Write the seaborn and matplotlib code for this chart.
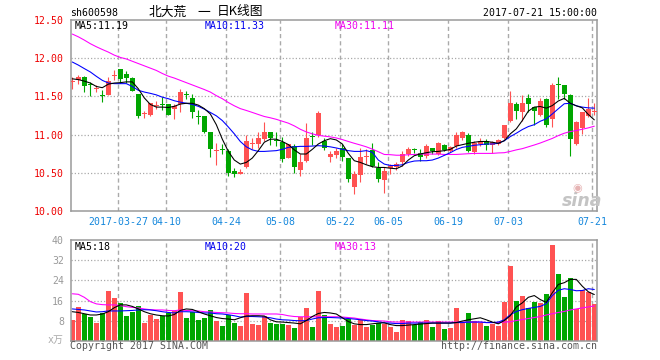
import numpy as np
import pandas as pd
import matplotlib
matplotlib.use("Agg")
import matplotlib.pyplot as plt
import seaborn as sns

# ---------------- data ----------------
tick_idx = [8, 16, 26, 35, 45, 53, 63, 73, 87]
tick_labels = ["2017-03-27", "04-10", "04-24", "05-08", "05-22", "06-05", "06-19", "07-03", "07-21"]

open_ = [
    11.69, 11.72, 11.76, 11.655, 11.60, 11.515, 11.52, 11.765, 11.86, 11.79,
    11.74, 11.53, 11.275, 11.255, 11.375, 11.405, 11.40, 11.34, 11.395, 11.535,
    11.48, 11.245, 11.24, 11.04, 10.795, 10.805, 10.78, 10.518, 10.48, 10.58,
    10.885, 10.88, 10.94, 11.03, 10.925, 10.90, 10.70, 10.855, 10.535, 10.65,
    10.985, 10.99, 10.91, 10.71, 10.73, 10.825, 10.69, 10.32, 10.47, 10.715,
    10.80, 10.56, 10.41, 10.56, 10.57, 10.64, 10.74, 10.805, 10.76, 10.715,
    10.82, 10.745, 10.87, 10.78, 10.855, 10.956, 11.00, 10.77, 10.88, 10.91,
    10.87, 10.88, 10.95, 11.175, 11.395, 11.30, 11.48, 11.36, 11.26, 11.46,
    11.206, 11.665, 11.645, 11.52, 10.88, 11.09, 11.24, 11.305]
high = [
    11.755, 11.785, 11.77, 11.69, 11.645, 11.59, 11.76, 11.85, 11.86, 11.83,
    11.76, 11.53, 11.315, 11.41, 11.44, 11.49, 11.40, 11.40, 11.60, 11.57,
    11.53, 11.32, 11.24, 11.04, 10.886, 10.88, 10.81, 10.56, 10.55, 11.00,
    10.96, 11.04, 11.17, 11.04, 11.04, 10.965, 10.88, 10.88, 10.745, 11.15,
    11.04, 11.31, 10.95, 10.79, 10.825, 10.88, 10.69, 10.52, 10.825, 10.81,
    10.885, 10.635, 10.58, 10.62, 10.635, 10.78, 10.84, 10.825, 10.81, 10.88,
    10.83, 10.90, 10.875, 10.855, 11.04, 11.05, 11.02, 10.92, 10.95, 10.94,
    10.91, 10.94, 11.13, 11.57, 11.425, 11.52, 11.535, 11.36, 11.48, 11.48,
    11.675, 11.755, 11.645, 11.535, 11.175, 11.29, 11.48, 11.41]
low = [
    11.60, 11.66, 11.56, 11.50, 11.56, 11.43, 11.515, 11.72, 11.67, 11.68,
    11.57, 11.22, 11.22, 11.245, 11.34, 11.32, 11.25, 11.20, 11.30, 11.465,
    11.22, 11.14, 11.02, 10.71, 10.605, 10.745, 10.46, 10.45, 10.48, 10.56,
    10.81, 10.83, 10.91, 10.87, 10.855, 10.635, 10.69, 10.50, 10.46, 10.645,
    10.87, 10.965, 10.80, 10.64, 10.69, 10.66, 10.385, 10.22, 10.385, 10.61,
    10.57, 10.385, 10.24, 10.48, 10.535, 10.59, 10.72, 10.755, 10.66, 10.69,
    10.745, 10.73, 10.79, 10.77, 10.83, 10.93, 10.77, 10.74, 10.85, 10.80,
    10.755, 10.87, 10.94, 11.16, 11.21, 11.18, 11.29, 11.13, 11.24, 11.105,
    11.105, 11.47, 11.47, 10.72, 10.87, 11.01, 11.23, 11.25]
close = [
    11.70, 11.76, 11.64, 11.645, 11.605, 11.51, 11.70, 11.775, 11.73, 11.745,
    11.575, 11.245, 11.285, 11.41, 11.385, 11.395, 11.26, 11.38, 11.56, 11.525,
    11.30, 11.235, 11.04, 10.81, 10.80, 10.795, 10.495, 10.48, 10.51, 10.91,
    10.89, 10.95, 11.04, 10.95, 10.915, 10.68, 10.88, 10.57, 10.635, 10.95,
    10.975, 11.28, 10.825, 10.74, 10.79, 10.71, 10.42, 10.49, 10.71, 10.72,
    10.59, 10.42, 10.53, 10.59, 10.62, 10.74, 10.81, 10.795, 10.71, 10.85,
    10.78, 10.89, 10.80, 10.84, 10.99, 11.03, 10.79, 10.886, 10.92, 10.87,
    10.90, 10.93, 11.13, 11.41, 11.31, 11.41, 11.40, 11.315, 11.44, 11.13,
    11.645, 11.655, 11.535, 10.94, 11.16, 11.29, 11.34, 11.31]

ma5 = [
    11.73, 11.72, 11.70, 11.675, 11.63, 11.614, 11.66, 11.675, 11.68, 11.69,
    11.69, 11.60, 11.48, 11.395, 11.36, 11.36, 11.355, 11.37, 11.40, 11.41,
    11.41, 11.386, 11.34, 11.27, 11.13, 10.94, 10.78, 10.667, 10.614, 10.636,
    10.693, 10.79, 10.90, 10.94, 10.94, 10.91, 10.87, 10.80, 10.746, 10.746,
    10.807, 10.877, 10.92, 10.947, 10.93, 10.877, 10.754, 10.658, 10.636, 10.605,
    10.58, 10.57, 10.57, 10.56, 10.553, 10.59, 10.667, 10.724, 10.746, 10.763,
    10.776, 10.78, 10.79, 10.807, 10.85, 10.868, 10.886, 10.90, 10.91, 10.91,
    10.90, 10.886, 10.92, 11.01, 11.075, 11.184, 11.307, 11.36, 11.368, 11.346,
    11.38, 11.44, 11.474, 11.41, 11.377, 11.35, 11.263, 11.193]
ma10 = [
    11.95, 11.91, 11.864, 11.82, 11.763, 11.71, 11.675, 11.667, 11.667, 11.667,
    11.63, 11.58, 11.557, 11.54, 11.52, 11.49, 11.47, 11.443, 11.425, 11.41,
    11.395, 11.37, 11.333, 11.29, 11.246, 11.184, 11.10, 11.01, 10.91, 10.84,
    10.80, 10.78, 10.78, 10.785, 10.79, 10.807, 10.833, 10.84, 10.846, 10.846,
    10.85, 10.855, 10.85, 10.84, 10.825, 10.807, 10.79, 10.78, 10.78, 10.79,
    10.77, 10.667, 10.614, 10.596, 10.596, 10.605, 10.636, 10.654, 10.658, 10.658,
    10.667, 10.693, 10.728, 10.763, 10.805, 10.833, 10.846, 10.86, 10.868, 10.877,
    10.877, 10.886, 10.92, 10.974, 11.018, 11.066, 11.105, 11.13, 11.175, 11.206,
    11.27, 11.338, 11.404, 11.41, 11.377, 11.36, 11.35, 11.346]
ma30 = [
    12.316, 12.28, 12.237, 12.19, 12.15, 12.114, 12.08, 12.04, 12.01, 11.99,
    11.96, 11.93, 11.90, 11.87, 11.84, 11.80, 11.765, 11.74, 11.71, 11.68,
    11.65, 11.62, 11.59, 11.557, 11.51, 11.47, 11.42, 11.377, 11.34, 11.316,
    11.29, 11.263, 11.237, 11.22, 11.20, 11.175, 11.15, 11.114, 11.07, 11.035,
    11.01, 10.99, 10.98, 10.97, 10.956, 10.935, 10.91, 10.886, 10.864, 10.84,
    10.81, 10.776, 10.74, 10.737, 10.73, 10.73, 10.737, 10.74, 10.745, 10.745,
    10.745, 10.745, 10.74, 10.74, 10.74, 10.745, 10.75, 10.754, 10.754, 10.754,
    10.754, 10.76, 10.763, 10.78, 10.80, 10.816, 10.84, 10.864, 10.89, 10.92,
    10.95, 10.987, 11.018, 11.04, 11.053, 11.07, 11.088, 11.11]

volume = [
    8.4, 13.3, 10.7, 9.7, 7.3, 11.1, 20.0, 16.9, 14.9, 10.0,
    11.3, 13.7, 7.3, 10.3, 8.9, 10.0, 11.1, 12.0, 19.6, 9.3,
    11.6, 8.4, 9.3, 12.4, 8.0, 6.0, 10.3, 7.3, 6.0, 19.2,
    6.9, 6.5, 10.0, 7.3, 6.9, 6.9, 6.5, 5.3, 9.7, 12.9,
    5.7, 20.0, 10.3, 6.9, 5.7, 6.0, 8.9, 6.3, 8.9, 5.7,
    6.4, 7.1, 6.9, 5.7, 3.6, 8.4, 7.9, 6.3, 7.7, 8.4,
    5.7, 8.0, 4.9, 5.3, 12.9, 7.1, 11.2, 8.0, 7.1, 6.0,
    6.7, 6.1, 15.3, 29.7, 15.7, 17.7, 13.1, 15.3, 15.1, 18.8,
    38.1, 26.4, 17.3, 24.9, 12.7, 20.1, 19.5, 14.5]
vma5 = [
    11.6, 11.3, 10.8, 10.3, 10.3, 10.7, 11.6, 13.2, 14.3, 14.3,
    13.7, 12.7, 11.6, 10.8, 10.3, 10.0, 9.9, 10.5, 12.1, 12.7,
    12.5, 11.6, 10.7, 10.0, 9.3, 8.9, 8.7, 8.4, 9.2, 9.9,
    10.0, 10.0, 9.9, 8.4, 7.6, 7.5, 7.3, 7.1, 6.8, 8.1,
    9.7, 10.9, 11.3, 11.1, 10.7, 9.2, 7.7, 6.8, 6.5, 6.5,
    6.8, 7.1, 7.2, 6.5, 6.1, 6.1, 6.3, 6.5, 6.7, 6.9,
    7.1, 7.1, 7.1, 7.1, 7.3, 7.9, 8.4, 8.8, 9.2, 8.4,
    7.5, 6.8, 8.1, 10.0, 13.5, 15.1, 17.3, 18.0, 16.4, 15.3,
    19.1, 22.4, 23.1, 24.4, 24.4, 21.7, 19.5, 18.4]
vma10 = [
    12.7, 12.5, 12.3, 11.9, 11.5, 11.6, 11.9, 11.9, 11.9, 12.0,
    12.1, 12.3, 12.4, 12.3, 12.0, 11.6, 11.3, 11.1, 11.6, 11.6,
    11.5, 11.3, 11.1, 11.1, 10.8, 10.7, 10.4, 10.0, 9.5, 9.7,
    9.7, 9.6, 9.5, 9.2, 8.7, 8.4, 8.3, 8.1, 8.0, 8.1,
    8.7, 9.2, 9.3, 9.3, 9.2, 9.1, 8.9, 8.7, 8.4, 8.1,
    7.9, 7.6, 7.2, 7.1, 6.9, 6.9, 7.1, 7.1, 7.1, 7.1,
    7.1, 7.1, 7.1, 7.1, 7.3, 7.3, 7.5, 7.5, 7.5, 7.3,
    7.3, 7.5, 8.4, 10.4, 11.7, 12.4, 12.9, 13.3, 13.7, 14.8,
    18.0, 20.1, 20.7, 20.4, 19.9, 20.0, 20.7, 20.4]
vma30 = [
    18.7, 18.5, 17.3, 15.6, 14.7, 14.4, 14.3, 14.3, 14.0, 13.6,
    13.3, 13.1, 12.7, 12.4, 12.3, 12.3, 12.1, 12.0, 12.3, 12.1,
    12.0, 11.9, 11.6, 11.5, 11.3, 11.2, 11.1, 10.9, 10.8, 10.8,
    10.7, 10.7, 10.7, 10.7, 10.7, 10.5, 10.0, 9.7, 9.6, 9.6,
    9.6, 9.6, 9.6, 9.6, 9.6, 9.5, 9.3, 9.1, 8.7, 8.4,
    8.1, 8.0, 7.9, 7.6, 7.5, 7.5, 7.5, 7.5, 7.5, 7.5,
    7.5, 7.5, 7.5, 7.5, 7.5, 7.5, 7.5, 7.5, 7.5, 7.3,
    7.3, 7.3, 7.5, 7.6, 8.1, 8.5, 8.9, 9.3, 9.7, 10.3,
    10.8, 11.3, 11.7, 12.3, 12.7, 13.1, 13.5, 13.9]

price_ticks = [10.00, 10.50, 11.00, 11.50, 12.00, 12.50]
vol_ticks = [8, 16, 24, 32, 40]

price_ma_labels = ["MA5:11.19", "MA10:11.33", "MA30:11.11"]
vol_ma_labels = ["MA5:18", "MA10:20", "MA30:13"]

# ---------------- styling ----------------
W, H = 660, 360
RED = "#ff5252"
GREEN = "#00a600"
GRID = "#aaaaaa"
SPINE = "#9a9a9a"
MONO = "DejaVu Sans Mono"
CJK = ["Noto Sans CJK SC", "DejaVu Sans"]
FS = 7.1
LW = 0.78

sns.set_style("white")
plt.rcParams["font.family"] = ["DejaVu Sans Mono", "Noto Sans CJK SC"]

fig = plt.figure(figsize=(W / 100, H / 100), dpi=100)
fig.patch.set_facecolor("white")


def ax_rect(x0, y0, x1, y1):
    return [x0 / W, 1 - y1 / H, (x1 - x0) / W, (y1 - y0) / H]


def fx(x):
    return x / W


def fy(y):
    return 1 - y / H


axp = fig.add_axes(ax_rect(71, 20, 597, 211))
axv = fig.add_axes(ax_rect(71, 240, 597, 341))

df = pd.DataFrame({"open": open_, "high": high, "low": low, "close": close,
                   "ma5": ma5, "ma10": ma10, "ma30": ma30,
                   "vol": volume, "vma5": vma5, "vma10": vma10, "vma30": vma30})
df["idx"] = np.arange(len(df))
df["dir"] = np.where(df["close"] >= df["open"], "up", "down")
colors = np.where(df["dir"] == "up", RED, GREEN)

xmin, xmax = -0.22, len(df) - 1 + 0.45
grid_x = [i - 0.33 for i in tick_idx]

for ax in (axp, axv):
    ax.set_facecolor("white")
    for s in ax.spines.values():
        s.set_color(SPINE)
        s.set_linewidth(1.1)
        s.set_visible(True)
    ax.set_xlim(xmin, xmax)
    ax.tick_params(length=0)
    for gx in grid_x:
        ax.axvline(gx, color=GRID, lw=1.0, ls=(0, (3, 2.2)), zorder=0.5)

# ---------------- price panel ----------------
axp.set_ylim(10.0, 12.5)
for yv in price_ticks[1:-1]:
    axp.axhline(yv, color=GRID, lw=0.9, ls=(0, (1, 1.6)), zorder=0.5)

# watermark
fig.text(fx(582), fy(201), "sina", ha="center", va="center",
         fontsize=12.5, fontweight="bold", style="italic", color="#c4c4c4",
         family="DejaVu Sans", zorder=0.6)
fig.text(fx(577), fy(188), "\u25c9", ha="center", va="center",
         fontsize=8, color="#e6b4b4", family="DejaVu Sans", zorder=0.6)

axp.vlines(df["idx"], df["low"], df["high"], colors=colors, lw=0.8, zorder=2)
body_lo = np.minimum(df["open"], df["close"])
body_h = np.abs(df["close"] - df["open"])
min_h = 0.014
body_lo = np.where(body_h < min_h, (df["open"] + df["close"]) / 2 - min_h / 2, body_lo)
body_h = np.maximum(body_h, min_h)
axp.bar(df["idx"], body_h, bottom=body_lo, width=0.8, color=colors, linewidth=0, zorder=3)

sns.lineplot(data=df, x="idx", y="ma30", ax=axp, color="#ff00ff", lw=LW, zorder=4)
sns.lineplot(data=df, x="idx", y="ma10", ax=axp, color="#0000ff", lw=LW, zorder=4)
sns.lineplot(data=df, x="idx", y="ma5", ax=axp, color="#000000", lw=LW, zorder=5)

axp.set_xlim(xmin, xmax)
axp.set_ylim(10.0, 12.5)
axp.set_yticks(price_ticks)
axp.set_yticklabels([f"{v:.2f}" for v in price_ticks], color="#ee0000", fontsize=FS, family=MONO)
axp.tick_params(axis="y", pad=5)
axp.set_xticks(grid_x)
axp.set_xticklabels(tick_labels, color="#1487dc", fontsize=FS, family=MONO)
axp.tick_params(axis="x", pad=4)
axp.set_xlabel("")
axp.set_ylabel("")

for xpos, lab, col in zip([75, 205, 335], price_ma_labels, ["black", "#0000ee", "#ee00ee"]):
    fig.text(fx(xpos), fy(26), lab, ha="left", va="center", fontsize=FS, family=MONO, color=col)

# ---------------- volume panel ----------------
axv.set_ylim(0, 40)
for yv in vol_ticks[:-1]:
    axv.axhline(yv, color=GRID, lw=0.9, ls=(0, (1, 1.6)), zorder=0.5)

sns.barplot(data=df, x="idx", y="vol", hue="dir", palette={"up": RED, "down": GREEN},
            native_scale=True, dodge=False, width=0.8, saturation=1, errorbar=None,
            linewidth=0, legend=False, ax=axv, zorder=2)

sns.lineplot(data=df, x="idx", y="vma30", ax=axv, color="#ff00ff", lw=LW, zorder=4)
sns.lineplot(data=df, x="idx", y="vma10", ax=axv, color="#0000ff", lw=LW, zorder=4)
sns.lineplot(data=df, x="idx", y="vma5", ax=axv, color="#000000", lw=LW, zorder=5)

axv.set_xlim(xmin, xmax)
axv.set_ylim(0, 40)
axv.set_yticks(vol_ticks)
axv.set_yticklabels([str(v) for v in vol_ticks], color="#999999", fontsize=FS, family=MONO)
axv.tick_params(axis="y", pad=5)
axv.set_xticks(grid_x)
axv.set_xticklabels([])
axv.set_xlabel("")
axv.set_ylabel("")
for s in axv.spines.values():
    s.set_color(SPINE)
    s.set_visible(True)

for xpos, lab, col in zip([75, 205, 335], vol_ma_labels, ["black", "#0000ee", "#ee00ee"]):
    fig.text(fx(xpos), fy(246.5), lab, ha="left", va="center", fontsize=FS, family=MONO, color=col)

# ---------------- header / footer text ----------------
fig.text(fx(70), fy(13), "sh600598", ha="left", va="center", fontsize=FS, family=MONO, color="black")
fig.text(fx(149), fy(12), "北大荒", ha="left", va="center", fontsize=9.2, family=CJK, color="black")
fig.text(fx(197), fy(12), "一", ha="left", va="center", fontsize=9.2, family=CJK, color="black")
fig.text(fx(217), fy(12), "日K线图", ha="left", va="center", fontsize=9.2, family=CJK, color="black")
fig.text(fx(597), fy(13), "2017-07-21 15:00:00", ha="right", va="center", fontsize=FS,
         family=MONO, color="black")
fig.text(fx(63), fy(340), "x万", ha="right", va="center", fontsize=FS,
         family=["DejaVu Sans Mono", "Noto Sans CJK SC"], color="#aaaaaa")
fig.text(fx(70), fy(346), "Copyright 2017 SINA.COM", ha="left", va="center", fontsize=FS,
         family=MONO, color="#555555")
fig.text(fx(597), fy(346), "http://finance.sina.com.cn", ha="right", va="center", fontsize=FS,
         family=MONO, color="#555555")

fig.savefig("out.png", dpi=100, facecolor="white")
